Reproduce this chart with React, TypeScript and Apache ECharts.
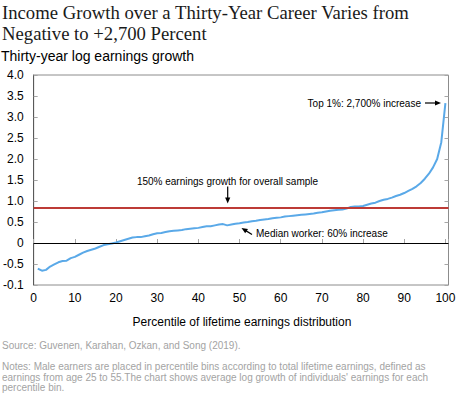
import { useEffect, useRef } from "react";
import * as echarts from "echarts";

const TITLE_LINES = [
  "Income Growth over a Thirty-Year Career Varies from",
  "Negative to +2,700 Percent",
];
const Y_AXIS_TITLE = "Thirty-year log earnings growth";
const X_AXIS_TITLE = "Percentile of lifetime earnings distribution";
const Y_TICK_LABELS = ["-0.1", "-0.5", "0", "0.5", "1.0", "1.5", "2.0", "2.5", "3.0", "3.5", "4.0"];
const X_TICK_LABELS = ["0", "10", "20", "30", "40", "50", "60", "70", "80", "90", "100"];

// Average thirty-year log earnings growth for percentiles 1..100
const logGrowth = [
  -0.61, -0.66, -0.64, -0.56, -0.51, -0.46, -0.43, -0.42, -0.36, -0.33,
  -0.28, -0.23, -0.19, -0.16, -0.13, -0.09, -0.05, -0.03, -0.01, 0.01,
  0.04, 0.07, 0.1, 0.13, 0.14, 0.14, 0.16, 0.18, 0.21, 0.23,
  0.24, 0.26, 0.28, 0.29, 0.3, 0.31, 0.33, 0.34, 0.35, 0.36,
  0.38, 0.4, 0.4, 0.42, 0.44, 0.45, 0.42, 0.44, 0.46, 0.47,
  0.49, 0.5, 0.52, 0.53, 0.55, 0.56, 0.57, 0.59, 0.6, 0.61,
  0.63, 0.64, 0.65, 0.66, 0.67, 0.68, 0.69, 0.7, 0.72, 0.73,
  0.75, 0.77, 0.78, 0.79, 0.8, 0.82, 0.86, 0.87, 0.87, 0.88,
  0.91, 0.94, 0.96, 1.0, 1.03, 1.05, 1.08, 1.12, 1.15, 1.19,
  1.24, 1.29, 1.35, 1.43, 1.53, 1.65, 1.8, 2.0, 2.4, 3.33,
];
const overallGrowth = 0.85;
const zeroLevel = 0;

const ANNOTATION_TOP = "Top 1%: 2,700% increase";
const ANNOTATION_OVERALL = "150% earnings growth for overall sample";
const ANNOTATION_MEDIAN = "Median worker: 60% increase";
const SOURCE = "Source: Guvenen, Karahan, Ozkan, and Song (2019).";
const NOTES = [
  "Notes: Male earners are placed in percentile bins according to total lifetime earnings, defined as",
  "earnings from age 25 to 55.The chart shows average log growth of individuals' earnings for each",
  "percentile bin.",
];

const SANS = "'Liberation Sans', Arial, sans-serif";
const SERIF = "'Liberation Serif', 'Times New Roman', serif";
const BLUE = "#5aa9e8";
const RED = "#bd3b36";
const FRAME = "#8c8c8c";
const NOTE_GRAY = "#a3a3a3";

function txt(text: string, x: number, y: number, size: number, opts: any = {}) {
  const align = opts.align || "left";
  return {
    type: "text",
    x,
    y,
    silent: true,
    style: {
      text,
      fontSize: size,
      fontFamily: opts.family || SANS,
      fill: opts.color || "#000",
      align,
      textAlign: align,
      verticalAlign: "middle",
      textVerticalAlign: "middle",
    },
  };
}

function arrow(x1: number, y1: number, x2: number, y2: number) {
  const dx = x2 - x1;
  const dy = y2 - y1;
  const len = Math.sqrt(dx * dx + dy * dy);
  const ux = dx / len;
  const uy = dy / len;
  const hl = 6;
  const hw = 2.6;
  const bx = x2 - ux * hl;
  const by = y2 - uy * hl;
  return [
    {
      type: "line",
      silent: true,
      shape: { x1, y1, x2: bx + ux, y2: by + uy },
      style: { stroke: "#000", lineWidth: 1.2 },
    },
    {
      type: "polygon",
      silent: true,
      shape: {
        points: [
          [x2, y2],
          [bx - uy * hw, by + ux * hw],
          [bx + uy * hw, by - ux * hw],
        ],
      },
      style: { fill: "#000" },
    },
  ];
}

export default function App() {
  const ref = useRef<HTMLDivElement>(null);

  useEffect(() => {
    document.body.style.margin = "0";
    if (!ref.current) return;
    const chart = echarts.init(ref.current, null, { renderer: "svg" });

    const yLabel = (v: number) => {
      const idx = Math.round((v + 1) / 0.5);
      return Y_TICK_LABELS[idx] ?? "";
    };
    const xLabel = (v: number) => {
      const idx = Math.round(v / 10);
      return Math.abs(v - idx * 10) < 1e-6 ? X_TICK_LABELS[idx] ?? "" : "";
    };

    const option: any = {
      animation: false,
      grid: {
        left: 32.5,
        top: 75,
        width: 416,
        height: 210,
        show: true,
        borderColor: FRAME,
        borderWidth: 1,
        containLabel: false,
      },
      xAxis: {
        type: "value",
        min: 0,
        max: 100.75,
        interval: 10,
        axisLine: { show: false },
        axisTick: { show: true, inside: true, length: 4, lineStyle: { color: "#a6a6a6" } },
        splitLine: { show: false },
        axisLabel: {
          formatter: xLabel,
          color: "#000",
          fontSize: 12,
          fontFamily: SANS,
          margin: 7,
        },
      },
      yAxis: [
        {
          type: "value",
          min: -1,
          max: 4,
          interval: 0.5,
          position: "left",
          axisLine: { show: true, lineStyle: { color: "#595959", width: 1 } },
          axisTick: { show: true, inside: true, length: 4, lineStyle: { color: "#a6a6a6" } },
          splitLine: { show: false },
          axisLabel: {
            formatter: yLabel,
            color: "#000",
            fontSize: 12,
            fontFamily: SANS,
            margin: 10,
          },
        },
        {
          type: "value",
          min: -1,
          max: 4,
          interval: 0.5,
          position: "right",
          axisLine: { show: false },
          axisTick: { show: true, inside: true, length: 4, lineStyle: { color: "#a6a6a6" } },
          splitLine: { show: false },
          axisLabel: { show: false },
        },
      ],
      series: [
        {
          type: "line",
          data: logGrowth.map((v, i) => [i + 1, v]),
          showSymbol: false,
          symbol: "none",
          lineStyle: { color: BLUE, width: 2 },
          z: 3,
          markLine: {
            silent: true,
            symbol: "none",
            label: { show: false },
            data: [
              { yAxis: zeroLevel, lineStyle: { color: "#000", width: 1, type: "solid" } },
              { yAxis: overallGrowth, lineStyle: { color: RED, width: 2.2, type: "solid" } },
            ],
          },
        },
      ],
      graphic: [
        txt(TITLE_LINES[0], 2, 12.5, 18.7, { family: SERIF, color: "#1a1a1a" }),
        txt(TITLE_LINES[1], 2, 33, 18.7, { family: SERIF, color: "#1a1a1a" }),
        txt(Y_AXIS_TITLE, 1, 56, 14),
        txt(X_AXIS_TITLE, 242, 322, 12, { align: "center" }),
        txt(ANNOTATION_TOP, 421, 103, 10, { align: "right" }),
        ...arrow(425, 103, 441, 103),
        txt(ANNOTATION_OVERALL, 227.5, 181.7, 10, { align: "center" }),
        ...arrow(227.7, 186.5, 227.7, 203.5),
        txt(ANNOTATION_MEDIAN, 256, 233.7, 10),
        ...arrow(252, 234.5, 241.5, 228),
        txt(SOURCE, 2, 345.7, 10, { color: NOTE_GRAY }),
        txt(NOTES[0], 2, 366.7, 10, { color: NOTE_GRAY }),
        txt(NOTES[1], 2, 377, 10, { color: NOTE_GRAY }),
        txt(NOTES[2], 2, 387.3, 10, { color: NOTE_GRAY }),
      ],
    };

    chart.setOption(option);
    return () => chart.dispose();
  }, []);

  return <div ref={ref} style={{ width: 461, height: 398 }} />;
}
